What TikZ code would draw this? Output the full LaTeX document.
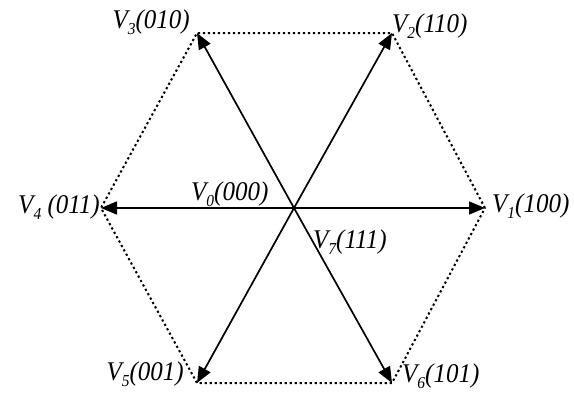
\documentclass[tikz,border=0pt]{standalone}
\usepackage{fontspec}
\setmainfont{Liberation Serif}
\usetikzlibrary{arrows.meta}
\newcommand{\sbs}[1]{\raisebox{-0.25em}{\fontsize{15.5}{15.5}\selectfont #1}}
\newcommand{\tall}[1]{\scalebox{1}[1.08]{#1}}
\tikzset{
  vec/.style={line width=1.7pt,-{Triangle[length=16pt,width=13pt]}},
  hexside/.style={line width=2pt,dash pattern=on 2.2pt off 2.8pt},
  lbl/.style={inner sep=0pt,font=\fontsize{25}{29}\selectfont\itshape}
}
\begin{document}
\begin{tikzpicture}[x=1pt,y=-1pt]
\useasboundingbox (0,0) rectangle (574,394);
\coordinate (O) at (294,208);
\coordinate (P1) at (485,208);
\coordinate (P2) at (392,33);
\coordinate (P3) at (197,33);
\coordinate (P4) at (101,208);
\coordinate (P5) at (197,383);
\coordinate (P6) at (392,383);
\draw[hexside] (P1) -- (P2) -- (P3) -- (P4) -- (P5) -- (P6) -- cycle;
\draw[vec] (O) -- (P1);
\draw[vec] (O) -- (P2);
\draw[vec] (O) -- (P3);
\draw[vec] (O) -- (P4);
\draw[vec] (O) -- (P5);
\draw[vec] (O) -- (P6);
\node[lbl,anchor=base west] (L1) at (492,212) {\tall{V\sbs{1}(100)}};
\node[lbl,anchor=base west] (L2) at (392,32) {\tall{V\sbs{2}(110)}};
\node[lbl,anchor=base east] (L3) at (190,28) {\tall{V\sbs{3}(010)}};
\node[lbl,anchor=base east] (L4) at (100,213) {\tall{V\sbs{4} (011)}};
\node[lbl,anchor=base east] (L5) at (184,380) {\tall{V\sbs{5}(001)}};
\node[lbl,anchor=base west] (L6) at (402,382) {\tall{V\sbs{6}(101)}};
\node[lbl,anchor=base west] (L0) at (191,200) {\tall{V\sbs{0}(000)}};
\node[lbl,anchor=base west] (L7) at (313,248) {\tall{V\sbs{7}(111)}};
\end{tikzpicture}
\end{document}
